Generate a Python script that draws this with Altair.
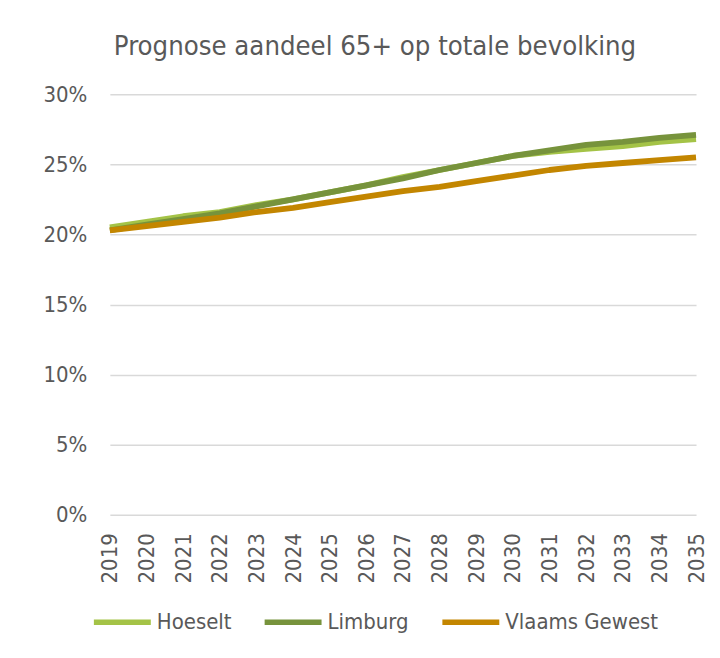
import altair as alt
import pandas as pd

years = [str(y) for y in range(2019, 2036)]
hoeselt = [20.5, 20.9, 21.3, 21.6, 22.1, 22.5, 23.0, 23.5, 24.1, 24.6, 25.1, 25.6, 25.9, 26.1, 26.3, 26.6, 26.8]
limburg = [20.3, 20.7, 21.1, 21.5, 22.0, 22.5, 23.0, 23.5, 24.0, 24.6, 25.1, 25.6, 26.0, 26.4, 26.6, 26.9, 27.1]
vlaams = [20.3, 20.6, 20.9, 21.2, 21.6, 21.9, 22.3, 22.7, 23.1, 23.4, 23.8, 24.2, 24.6, 24.9, 25.1, 25.3, 25.5]

series = ["Hoeselt", "Limburg", "Vlaams Gewest"]
colors = ["#A4C347", "#77933C", "#C38600"]

rows = []
for name, vals in zip(series, [hoeselt, limburg, vlaams]):
    for y, v in zip(years, vals):
        rows.append({"Jaar": y, "Reeks": name, "Aandeel": v / 100})
df = pd.DataFrame(rows)

FONT = "DejaVu Sans Condensed"
GREY = "#595959"

chart = alt.Chart(df).mark_line(strokeWidth=5.8, strokeCap="butt", strokeJoin="round").encode(
    x=alt.X("Jaar:O", sort=years, scale=alt.Scale(type="point", padding=0),
            axis=alt.Axis(title=None, labelAngle=-90, labelFontSize=22, labelColor=GREY,
                          labelFont=FONT, ticks=False, domain=False, labelPadding=18,
                          labelBaseline="middle", labelAlign="right")),
    y=alt.Y("Aandeel:Q", scale=alt.Scale(domain=[0, 0.30]),
            axis=alt.Axis(title=None, format=".0%", values=[0, 0.05, 0.10, 0.15, 0.20, 0.25, 0.30],
                          labelFontSize=22, labelColor=GREY, labelFont=FONT, ticks=False,
                          domain=False, labelPadding=23, gridColor="#D9D9D9", gridWidth=1.5)),
    color=alt.Color("Reeks:N", scale=alt.Scale(domain=series, range=colors),
                    legend=alt.Legend(title=None, orient="none", direction="horizontal",
                                      legendX=-19, legendY=497, symbolType="stroke",
                                      symbolStrokeWidth=5.5, symbolSize=3249,
                                      labelFontSize=22, labelColor=GREY, labelFont=FONT,
                                      labelOffset=3, columnPadding=22)),
    order=alt.Order("Jaar:O"),
).properties(
    width=587,
    height=421,
    padding={"left": 35, "top": 24, "right": 5, "bottom": 5},
    title=alt.TitleParams("Prognose aandeel 65+ op totale bevolking", fontSize=27.3,
                          font=FONT, color=GREY, fontWeight="normal", frame="bounds",
                          anchor="middle", offset=23),
).configure_view(stroke=None)

chart.save("out.html", embed_options={"renderer": "svg", "actions": False})
